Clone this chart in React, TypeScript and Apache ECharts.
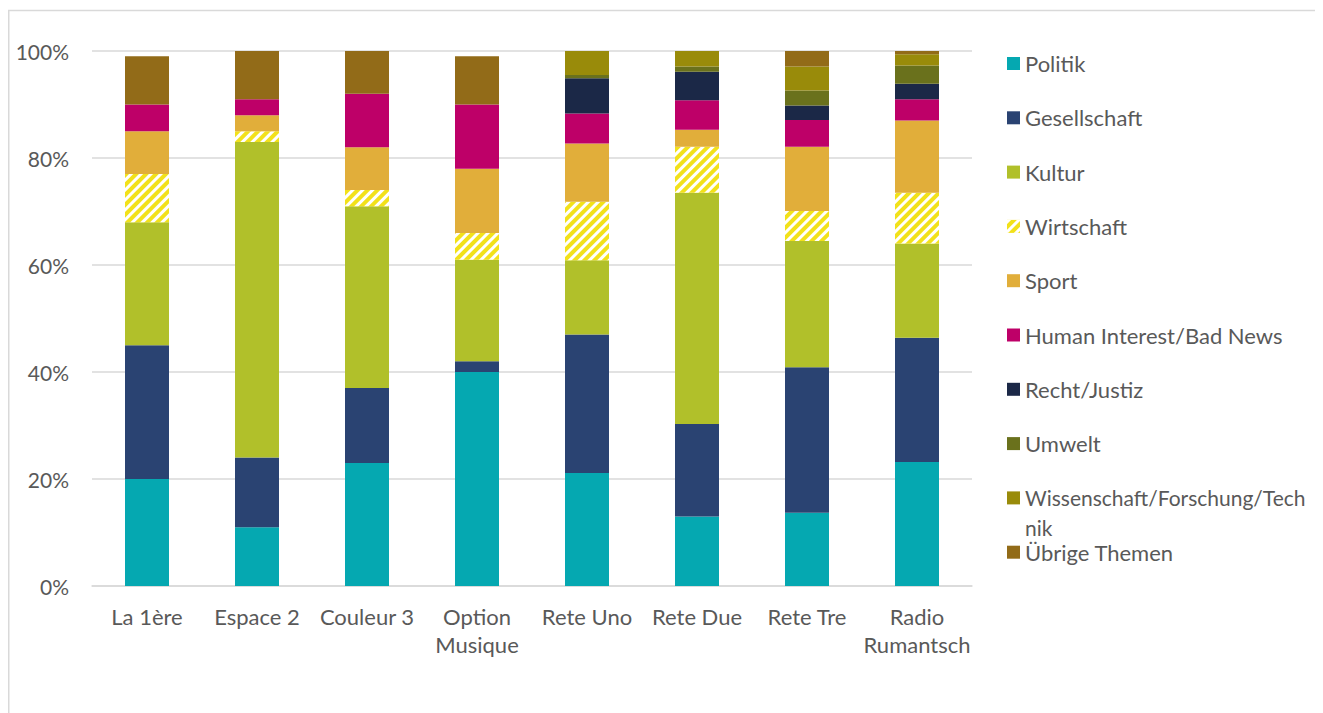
import React, { useEffect, useRef } from "react";
import * as echarts from "echarts";

const categories = ["La 1ère", "Espace 2", "Couleur 3", "Option\nMusique", "Rete Uno", "Rete Due", "Rete Tre", "Radio\nRumantsch"];
const yTicks = [0, 20, 40, 60, 80, 100];

const politik = [20, 11, 23, 40, 21.1, 13.0, 13.7, 23.2];
const gesellschaft = [25, 13, 14, 2, 25.9, 17.3, 27.2, 23.2];
const kultur = [23, 59, 34, 19, 13.9, 43.2, 23.6, 17.6];
const wirtschaft = [9, 2, 3, 5, 10.9, 8.6, 5.6, 9.5];
const sport = [8, 3, 8, 12, 10.9, 3.2, 12.0, 13.5];
const humanInterest = [5, 3, 10, 12, 5.6, 5.5, 5.0, 4.0];
const recht = [0, 0, 0, 0, 6.6, 5.3, 2.7, 2.9];
const umwelt = [0, 0, 0, 0, 0.6, 1.0, 2.8, 3.4];
const wissenschaft = [0, 0, 0, 0, 4.5, 2.9, 4.5, 2.1];
const uebrige = [9, 9, 8, 9, 0, 0, 2.9, 0.6];

const seriesNames = [
  "Politik",
  "Gesellschaft",
  "Kultur",
  "Wirtschaft",
  "Sport",
  "Human Interest/Bad News",
  "Recht/Justiz",
  "Umwelt",
  "Wissenschaft/Forschung/Technik",
  "Übrige Themen",
];
const seriesData = [politik, gesellschaft, kultur, wirtschaft, sport, humanInterest, recht, umwelt, wissenschaft, uebrige];
const seriesColors = ["#05A8B1", "#2A4372", "#B1C02A", "#F2E11A", "#E1AE3A", "#BE0068", "#1B2847", "#6A711C", "#998B0A", "#926B18"];

const WFT = "Wissenschaft/Forschung/Technik";
const WFT_LINE1 = "Wissenschaft/Forschung/Tech";
const WFT_LINE2 = "nik";

const FONT = "Lato, 'Open Sans', sans-serif";
const TEXT = "#595959";
const GRID = "#D9D9D9";

export default function App() {
  const ref = useRef<HTMLDivElement>(null);
  useEffect(() => {
    if (!ref.current) return;
    const chart = echarts.init(ref.current, undefined, { renderer: "svg" });
    const series = seriesNames.map((name, i) => {
      const itemStyle: any = { color: seriesColors[i] };
      if (name === "Wirtschaft") {
        itemStyle.decal = {
          symbol: "rect",
          symbolSize: 1,
          color: "#FFFFFF",
          backgroundColor: seriesColors[i],
          dashArrayX: [1, 0],
          dashArrayY: [3, 4],
          rotation: -Math.PI / 4,
        };
      }
      return {
        name,
        type: "bar",
        stack: "total",
        barWidth: 44,
        data: seriesData[i],
        itemStyle,
        emphasis: { disabled: true },
      };
    });
    chart.setOption({
      animation: false,
      textStyle: { fontFamily: FONT },
      grid: { left: 84, top: 43, width: 880, height: 535, containLabel: false },
      xAxis: {
        type: "category",
        data: categories,
        axisLine: { show: true, lineStyle: { color: GRID, width: 1.5 } },
        axisTick: { show: false },
        axisLabel: { color: TEXT, fontSize: 22, fontFamily: FONT, margin: 16, lineHeight: 28, interval: 0 },
      },
      yAxis: {
        type: "value",
        min: yTicks[0],
        max: yTicks[yTicks.length - 1],
        interval: 20,
        axisLine: { show: false },
        axisTick: { show: false },
        splitLine: { lineStyle: { color: GRID, width: 1.5 } },
        axisLabel: { color: TEXT, fontSize: 21, fontFamily: FONT, margin: 23, formatter: "{value}%" },
      },
      legend: {
        orient: "vertical",
        left: 999,
        top: 43.5,
        padding: 0,
        itemWidth: 13,
        itemHeight: 13,
        itemGap: 30.3,
        icon: "rect",
        selectedMode: false,
        textStyle: { color: TEXT, fontSize: 22, fontFamily: FONT, lineHeight: 24 },
        formatter: (name: string) => (name === WFT ? WFT_LINE1 : name),
        data: seriesNames.map((name) => (name === WFT ? { name, textStyle: { fontSize: 21 } } : { name })),
      },
      graphic: [
        { type: "line", shape: { x1: 0, y1: 2.5, x2: 1315, y2: 2.5 }, style: { stroke: GRID, lineWidth: 1.5 }, silent: true },
        { type: "line", shape: { x1: 0.75, y1: 2, x2: 0.75, y2: 705 }, style: { stroke: GRID, lineWidth: 1.5 }, silent: true },
        {
          type: "text",
          x: 1017,
          y: 519,
          silent: true,
          style: { text: WFT_LINE2, fill: TEXT, fontSize: 21, lineHeight: 20, fontFamily: FONT, verticalAlign: "middle", align: "left" },
        },
      ],
      series,
    });
    return () => chart.dispose();
  }, []);
  return <div ref={ref} style={{ width: 1315, height: 705 }} />;
}
